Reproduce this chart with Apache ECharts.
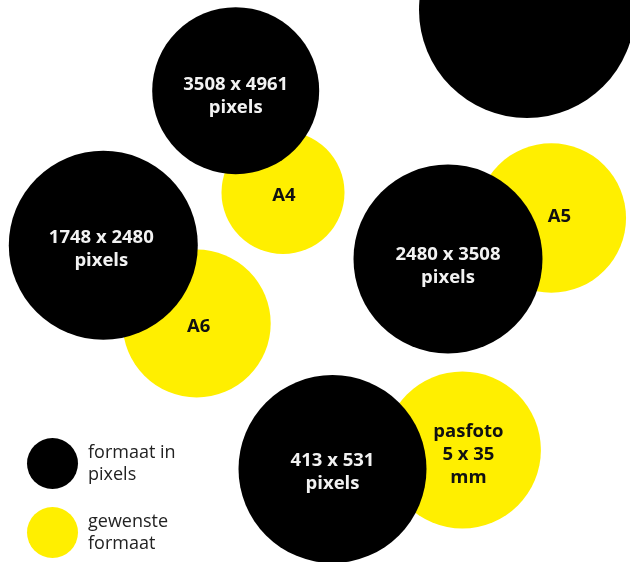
<!DOCTYPE html>
<html>
<head>
<meta charset="utf-8">
<script src="https://cdn.jsdelivr.net/npm/echarts@6/dist/echarts.min.js"></script>
<style>html,body{margin:0;padding:0;background:#fff;}#c{width:630px;height:562px;}</style>
</head>
<body>
<div id="c"></div>
<script>
// Black bubbles: file size in pixels
const pixelNames = ['3508 x 4961\npixels', '1748 x 2480\npixels', '2480 x 3508\npixels', '413 x 531\npixels', ''];
const pixelX = [235.7, 103.3, 448, 332.5, 527];
const pixelY = [90.7, 245.2, 259, 469, 10];
const pixelSize = [167, 189, 189, 188, 216];

// Yellow bubbles: desired format
const formatNames = ['A4', 'A6', 'A5', 'pasfoto\n5 x 35\nmm'];
const formatX = [283, 196.7, 551.3, 462.4];
const formatY = [192.5, 323.5, 218, 450];
const formatSize = [123, 148, 149.5, 157];

const seriesNames = ['formaat in pixels', 'gewenste formaat'];

// label nudges (style only)
const pixelLabelOffset = [[0, 6], [-2, 4], [0, 7], [0, 3], [0, 0]];
const formatLabelOffset = [[1, 3], [2, 3], [8, -1], [6, 5]];

const chart = echarts.init(document.getElementById('c'), null, {renderer: 'canvas'});
const FONT = '"Open Sans", "Noto Sans", sans-serif';

const yellowData = formatNames.map((n, i) => ({
  name: n, value: [formatX[i], formatY[i], formatSize[i]],
  label: {offset: formatLabelOffset[i]}
}));
const blackData = pixelNames.map((n, i) => ({
  name: n, value: [pixelX[i], pixelY[i], pixelSize[i]],
  label: {offset: pixelLabelOffset[i]}
}));

chart.setOption({
  animation: false,
  backgroundColor: '#ffffff',
  grid: {left: 0, right: 0, top: 0, bottom: 0},
  xAxis: {type: 'value', min: 0, max: 630, show: false},
  yAxis: {type: 'value', min: 0, max: 562, inverse: true, show: false},
  legend: {
    orient: 'vertical', left: 27, top: 438, padding: 0,
    icon: 'circle', itemWidth: 51, itemHeight: 51, itemGap: 18,
    data: [seriesNames[0], seriesNames[1]],
    selectedMode: false,
    formatter: function (n) { return n === seriesNames[0] ? 'formaat in\npixels' : 'gewenste\nformaat'; },
    textStyle: {fontFamily: FONT, fontSize: 18, lineHeight: 22, color: '#222222', padding: [0, 0, 0, 5]}
  },
  series: [
    {
      name: seriesNames[1], type: 'scatter', z: 2,
      itemStyle: {color: '#FFEF00', opacity: 1},
      symbolSize: function (v) { return v[2]; },
      label: {show: true, position: 'inside', formatter: '{b}', color: '#111111',
        fontFamily: FONT, fontWeight: 'bold', fontSize: 18.5, lineHeight: 23},
      emphasis: {disabled: true},
      data: yellowData
    },
    {
      name: seriesNames[0], type: 'scatter', z: 3,
      itemStyle: {color: '#000000', opacity: 1},
      symbolSize: function (v) { return v[2]; },
      label: {show: true, position: 'inside', formatter: '{b}', color: '#f2f2f2',
        fontFamily: FONT, fontWeight: 'bold', fontSize: 18.5, lineHeight: 23},
      emphasis: {disabled: true},
      data: blackData
    }
  ]
});
</script>
</body>
</html>
